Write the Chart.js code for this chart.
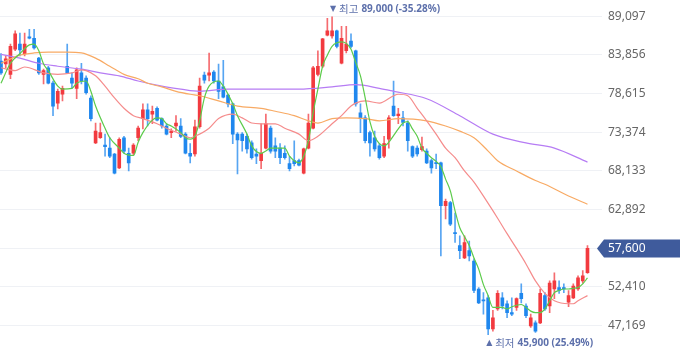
<!DOCTYPE html>
<html><head><meta charset="utf-8">
<script src="https://cdn.jsdelivr.net/npm/chart.js@4/dist/chart.umd.min.js"></script>
<style>html,body{margin:0;padding:0;background:#fff;}#wrap{width:680px;height:358px;position:relative;}</style>
</head><body><div id="wrap"><canvas id="c"></canvas></div>
<script>
// ---- data ----
const opens = [83000,82600,81200,84600,85300,84000,86300,86100,83400,81200,82100,80000,77300,78500,82300,80700,79300,81400,80700,78000,
71900,72600,71600,71200,70400,68500,72600,70500,70500,72600,75200,76400,75800,76600,75200,74200,73300,74200,74200,73100,
70500,70400,74100,81100,81100,81500,80300,79500,78400,77200,73100,73100,72800,71900,70400,69500,71200,73900,71500,71200,
70500,69100,69500,69500,67800,71200,73900,81200,82300,86500,86400,87100,82700,84400,85700,84400,76000,75300,73300,72600,
71500,70100,72400,76900,75600,75300,74600,71400,71200,71000,70800,69500,69200,69200,63400,63800,59700,58000,56300,57300,
55900,52100,50600,50900,46700,49400,50900,50100,48900,49600,51500,49800,47100,47500,47500,51200,49800,52100,52300,52300,
50300,50900,52100,53200,54300];
const highs = [84000,83700,85300,87100,86800,86800,87300,87300,83500,81900,82300,80300,79200,79600,85300,81400,82100,82700,81000,78300,
74600,74600,73100,72600,70500,72600,72800,71200,71800,74200,77200,77200,76900,76800,75300,74500,73800,75600,75200,73300,
71800,75000,80700,81500,84100,81700,82600,83100,78500,77300,73300,73300,73100,72200,71100,74500,75800,74200,72600,71800,
71500,70100,72200,69700,71200,75800,82300,84400,86100,88800,89000,87200,87700,87700,86700,84500,77200,75600,73500,73500,
71800,72800,75600,80300,76600,76200,74900,71500,71500,72700,71100,69700,70400,69300,64300,64000,62400,59300,59300,58600,
56200,52300,51600,51200,49200,51900,51600,50500,50900,50900,52800,50100,48700,47800,52100,51600,53200,54300,53200,52800,
51900,52800,53900,54600,58000];
const lows = [81200,82100,80600,84400,83700,83700,86000,84600,81200,79900,79900,75600,76500,77600,81300,79300,77900,79900,78500,74900,
71800,72500,70100,69900,67700,68400,70500,68100,70300,72200,73800,74200,74500,74900,73900,73000,72600,73500,72600,70400,
69200,70100,73900,80000,80300,80000,77900,78000,76800,71800,67700,70800,70500,69700,69100,68400,71100,70500,69900,69100,
69700,68100,68800,68800,67700,71100,73800,81000,82100,86400,86100,84800,82600,84100,84800,76900,73300,71900,70100,70800,
69700,69900,71200,75500,74500,74200,70800,69900,70100,70800,69100,67800,68400,56600,61600,60700,58400,56200,56200,55900,
51600,50100,48700,45900,46400,49200,49400,48200,48500,49200,50200,48200,46900,46200,47400,49200,48900,50800,51500,51600,
49700,50800,51900,52900,54200];
const closes = [81400,83300,85000,86700,84500,85300,86100,84800,81400,81700,80000,76900,78900,79300,81400,80000,81800,80300,78700,75200,
73500,73300,71400,70100,67800,72400,70800,69200,71600,73900,76400,75200,76200,75000,74200,73100,73500,74600,72800,70500,
70100,74100,79600,80400,81400,80300,78900,78100,77200,73100,72300,72200,71100,69900,70100,70500,74500,70800,70800,69900,
69900,68400,69100,68900,71100,74600,82100,82300,86000,87100,87100,85000,86100,85300,85000,77200,75200,72200,71900,71100,
69900,71800,75300,75600,75800,74700,72200,70100,70400,71400,69200,68500,69100,63400,64000,60900,59600,57300,58400,56600,
51900,50200,50500,46700,48200,51500,49800,48900,48700,50800,50800,48500,48200,46400,51500,49400,52900,53200,51900,52100,
51200,52500,53600,53900,57600];
// moving averages: [day index, value]
const ma5 = [[0,80000],[2,82700],[4,84000],[6,85200],[7,85300],[8,84400],[9,82600],[10,81700],[12,79600],[13,79200],[15,79300],[16,80000],[18,80300],[19,78900],[20,76900],[22,73900],[23,72600],[25,71200],[26,70500],[28,70200],[29,72000],[30,73300],[32,75000],[33,75300],[34,75200],[35,74500],[36,74200],[38,73300],[39,72600],[40,72400],[41,72800],[42,74900],[43,78000],[44,79600],[46,80300],[47,79600],[49,77200],[50,75600],[52,73100],[53,71500],[55,70500],[56,70800],[57,71200],[60,71200],[61,70100],[62,69500],[63,69200],[64,70100],[65,72200],[66,76000],[67,79200],[68,82300],[69,83800],[70,85000],[72,85600],[73,85400],[74,84600],[75,82800],[76,81000],[77,78000],[78,74800],[79,72800],[80,71800],[81,71500],[82,72000],[83,72900],[84,73800],[85,74600],[86,74800],[87,73800],[88,72800],[89,71200],[90,70500],[91,69900],[92,69400],[93,68700],[94,67000],[95,65400],[96,62700],[97,60400],[98,59200],[99,58000],[100,56300],[101,54800],[102,52700],[103,51200],[104,49600],[106,49600],[107,49400],[108,49700],[109,49900],[110,50000],[111,49600],[112,49100],[113,48900],[114,48900],[115,49400],[116,50500],[117,51600],[118,51900],[119,52100],[120,52100],[121,52200],[122,52300],[123,52800],[124,53600]];
const ma20 = [[0,82100],[3,81700],[5,82200],[9,81400],[12,81200],[15,81400],[17,81800],[18,81700],[20,81000],[22,79600],[24,78000],[26,76600],[28,75600],[30,75200],[33,74500],[35,73900],[38,73100],[40,72600],[41,72800],[44,73900],[46,75200],[49,75800],[51,75300],[53,74600],[55,74500],[58,74500],[60,73900],[63,73100],[65,72200],[67,72800],[70,74500],[72,75600],[74,76900],[75,77300],[77,77600],[80,77300],[83,78300],[84,78500],[86,78300],[88,76600],[90,74900],[92,73100],[94,71200],[96,69900],[98,68100],[100,66600],[103,63700],[105,61700],[107,59600],[109,57600],[111,55500],[113,53200],[115,51500],[117,50500],[120,50100],[121,50100],[122,50500],[124,51200]];
const ma60 = [[0,82700],[2,83300],[4,83800],[7,84100],[10,84200],[14,84200],[17,84100],[20,83400],[23,82300],[26,81200],[29,80600],[31,80000],[34,79500],[37,78900],[40,78500],[42,78300],[46,77600],[50,76900],[55,76600],[58,76200],[62,75600],[65,74900],[67,74600],[70,75200],[73,75300],[77,75200],[80,74900],[84,75200],[90,74900],[94,74200],[97,73500],[100,72600],[103,70800],[105,69500],[109,68100],[113,66800],[115,66300],[120,64700],[124,63600]];
const ma120 = [[0,83900],[4,83400],[8,82700],[12,82300],[17,81900],[21,81400],[25,81000],[29,80300],[34,79600],[38,79200],[42,78900],[48,79200],[55,79200],[63,79200],[70,79500],[75,79800],[80,79300],[83,78900],[90,77900],[97,75600],[104,73100],[111,71900],[117,71200],[124,69300]];
const yTicks = [47169,52410,57651,62892,68133,73374,78615,83856,89097];

// ---- chart ----
const UP = '#f23a3f', DOWN = '#1f87ee';
const UPW = 'rgba(242,58,63,0.75)', DOWNW = 'rgba(31,135,238,0.75)';
const idx = opens.map((_, i) => i);
const isUp = i => closes[i] >= opens[i];
const wickData = idx.map(i => ({x: i, y: [lows[i], highs[i]]}));
const bodyData = idx.map(i => ({x: i, y: [Math.min(opens[i], closes[i]), Math.max(opens[i], closes[i])]}));
const toPts = a => a.map(p => ({x: p[0], y: p[1]}));
const last = closes[closes.length - 1];
let hiI = 0, loI = 0;
highs.forEach((v, i) => { if (v > highs[hiI]) hiI = i; });
lows.forEach((v, i) => { if (v < lows[loI]) loI = i; });
const fmt = v => v.toLocaleString('en-US');

const lineDs = (data, color) => ({type: 'line', data: toPts(data), borderColor: color, borderWidth: 1.2,
  pointRadius: 0, cubicInterpolationMode: 'monotone', fill: false, order: 0});

const annot = {
  id: 'annot',
  afterDatasetsDraw(chart) {
    const ctx = chart.ctx, xs = chart.scales.x, ys = chart.scales.y, ca = chart.chartArea;
    const col = '#5d70ab';
    const drawLabel = (x, y, arrow, word, num) => {
      ctx.save();
      ctx.textBaseline = 'middle';
      ctx.textAlign = 'left';
      ctx.fillStyle = col;
      ctx.font = '8px "DejaVu Sans"';
      ctx.fillText(arrow, x - 2, y);
      ctx.font = '10.5px "Noto Sans CJK KR"';
      let cx = x + 7;
      ctx.fillText(word, cx, y);
      cx += ctx.measureText(word).width + 3;
      ctx.font = 'bold 10px "Noto Sans"';
      ctx.fillText(num, cx, y);
      ctx.restore();
    };
    const hiPct = ((last - highs[hiI]) / highs[hiI] * 100).toFixed(2);
    const loPct = ((last - lows[loI]) / lows[loI] * 100).toFixed(2);
    drawLabel(xs.getPixelForValue(hiI), 9, '▼', '최고', fmt(highs[hiI]) + ' (' + hiPct + '%)');
    drawLabel(xs.getPixelForValue(loI), 343, '▲', '최저', fmt(lows[loI]) + ' (' + loPct + '%)');
    // last price badge
    const y = ys.getPixelForValue(last);
    const x0 = ca.right + 1, w = chart.width;
    ctx.save();
    ctx.fillStyle = '#3f5b9c';
    ctx.beginPath();
    ctx.moveTo(x0, y);
    ctx.lineTo(x0 + 7, y - 9);
    ctx.lineTo(w, y - 9);
    ctx.lineTo(w, y + 9);
    ctx.lineTo(x0 + 7, y + 9);
    ctx.closePath();
    ctx.fill();
    ctx.fillStyle = '#ffffff';
    ctx.font = '12px "Noto Sans"';
    ctx.textBaseline = 'middle';
    ctx.fillText(fmt(last), ca.right + 12, y + 0.5);
    ctx.restore();
  }
};

new Chart(document.getElementById('c'), {
  type: 'bar',
  data: {
    datasets: [
      lineDs(ma5, '#5ccb4b'),
      lineDs(ma20, '#f58c8c'),
      lineDs(ma60, '#f8aa64'),
      lineDs(ma120, '#b67cf4'),
      {type: 'bar', data: bodyData, backgroundColor: idx.map(i => isUp(i) ? UP : DOWN),
       barThickness: 3, grouped: false, minBarLength: 1, order: 1},
      {type: 'bar', data: wickData, backgroundColor: idx.map(i => isUp(i) ? UPW : DOWNW),
       barThickness: 1, grouped: false, order: 2}
    ]
  },
  options: {
    responsive: true, maintainAspectRatio: false, animation: false,
    layout: {padding: 0},
    plugins: {legend: {display: false}, tooltip: {enabled: false}},
    scales: {
      x: {type: 'linear', min: -0.21, max: 125.8, display: false, offset: false},
      y: {position: 'right', min: 44537, max: 89490,
        afterBuildTicks: s => { s.ticks = yTicks.map(v => ({value: v})); },
        afterFit: s => { s.width = 84; },
        ticks: {color: '#666', padding: 6, font: {size: 12, family: 'Noto Sans'},
          callback: v => v === 57651 ? '' : fmt(v)},
        grid: {color: '#eff1f5', tickLength: 6, drawTicks: true},
        border: {display: false}
      }
    }
  },
  plugins: [annot]
});
</script></body></html>
